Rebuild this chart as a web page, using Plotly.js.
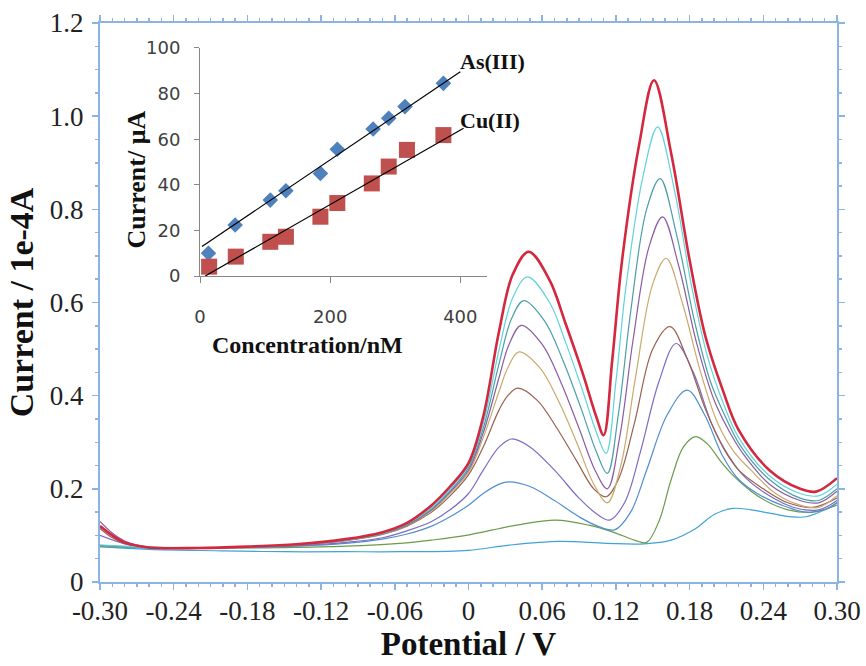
<!DOCTYPE html>
<html>
<head>
<meta charset="utf-8">
<script src="https://cdn.plot.ly/plotly-3.0.1.min.js"></script>
<style>html,body{margin:0;padding:0;background:#fff;}#chart{width:866px;height:666px;}</style>
</head>
<body>
<div id="chart"></div>
<script>
// ---- Main voltammograms (Potential / V, Current / 1e-4 A) ----
const redV = [-0.30,-0.29,-0.28,-0.26,-0.22,-0.18,-0.14,-0.10,-0.07,-0.05,-0.03,-0.015,0.0,0.012,0.025,0.036,0.049,0.066,0.079,0.093,0.104,0.110,0.117,0.125,0.139,0.151,0.165,0.18,0.193,0.207,0.22,0.245,0.27,0.283,0.30];
const redI = [0.12,0.10,0.085,0.074,0.073,0.076,0.081,0.092,0.107,0.127,0.165,0.205,0.255,0.355,0.54,0.66,0.709,0.648,0.555,0.448,0.355,0.315,0.476,0.69,0.94,1.077,0.92,0.691,0.526,0.412,0.326,0.24,0.2,0.194,0.223];

const cyanV = [-0.30,-0.28,-0.26,-0.22,-0.18,-0.14,-0.10,-0.07,-0.05,-0.03,-0.015,0.0,0.012,0.025,0.036,0.048,0.066,0.079,0.093,0.104,0.112,0.12,0.128,0.142,0.154,0.167,0.182,0.195,0.208,0.22,0.245,0.27,0.285,0.30];
const cyanI = [0.08,0.077,0.075,0.073,0.076,0.08,0.09,0.105,0.125,0.16,0.2,0.25,0.34,0.5,0.61,0.655,0.6,0.515,0.41,0.322,0.276,0.43,0.63,0.87,0.977,0.85,0.63,0.48,0.38,0.31,0.228,0.19,0.185,0.21];

const tealV = [-0.30,-0.28,-0.26,-0.22,-0.18,-0.14,-0.10,-0.07,-0.05,-0.03,-0.015,0.0,0.012,0.025,0.035,0.045,0.062,0.077,0.092,0.104,0.113,0.122,0.132,0.145,0.156,0.169,0.184,0.197,0.21,0.222,0.245,0.27,0.285,0.30];
const tealI = [0.078,0.076,0.074,0.073,0.076,0.08,0.09,0.104,0.123,0.157,0.196,0.245,0.33,0.47,0.565,0.604,0.56,0.475,0.37,0.28,0.233,0.36,0.58,0.80,0.866,0.75,0.56,0.43,0.35,0.29,0.22,0.18,0.175,0.2];

const purpleV = [-0.30,-0.29,-0.28,-0.26,-0.22,-0.18,-0.14,-0.10,-0.07,-0.05,-0.03,-0.015,0.0,0.012,0.025,0.033,0.043,0.06,0.075,0.09,0.103,0.113,0.123,0.134,0.147,0.158,0.171,0.186,0.2,0.213,0.225,0.245,0.27,0.285,0.30];
const purpleI = [0.13,0.105,0.088,0.075,0.073,0.076,0.08,0.09,0.104,0.122,0.155,0.193,0.24,0.32,0.44,0.51,0.551,0.51,0.43,0.33,0.24,0.2,0.31,0.52,0.72,0.784,0.68,0.51,0.39,0.32,0.27,0.21,0.175,0.17,0.195];

const tanV = [-0.30,-0.28,-0.26,-0.22,-0.18,-0.14,-0.10,-0.07,-0.05,-0.03,-0.015,0.0,0.012,0.025,0.032,0.041,0.058,0.073,0.088,0.102,0.113,0.124,0.136,0.15,0.161,0.174,0.189,0.203,0.216,0.23,0.25,0.27,0.285,0.30];
const tanI = [0.078,0.076,0.074,0.073,0.076,0.08,0.089,0.103,0.121,0.153,0.19,0.235,0.31,0.41,0.46,0.494,0.46,0.39,0.3,0.21,0.17,0.25,0.44,0.64,0.695,0.6,0.45,0.34,0.28,0.24,0.19,0.165,0.16,0.185];

const brownV = [-0.30,-0.29,-0.28,-0.26,-0.22,-0.18,-0.14,-0.10,-0.07,-0.05,-0.03,-0.015,0.0,0.012,0.025,0.032,0.040,0.056,0.072,0.088,0.102,0.112,0.122,0.135,0.15,0.164,0.178,0.193,0.207,0.22,0.24,0.26,0.28,0.30];
const brownI = [0.115,0.095,0.083,0.074,0.073,0.076,0.08,0.089,0.102,0.12,0.15,0.185,0.23,0.29,0.37,0.4,0.416,0.39,0.33,0.26,0.2,0.183,0.22,0.34,0.5,0.548,0.48,0.37,0.29,0.24,0.2,0.17,0.16,0.18];

const violetV = [-0.30,-0.28,-0.26,-0.22,-0.18,-0.14,-0.10,-0.07,-0.05,-0.03,-0.015,0.0,0.012,0.025,0.035,0.05,0.07,0.09,0.105,0.115,0.127,0.14,0.155,0.169,0.183,0.198,0.212,0.225,0.245,0.265,0.285,0.30];
const violetI = [0.1,0.082,0.074,0.072,0.075,0.078,0.085,0.095,0.11,0.13,0.155,0.19,0.24,0.29,0.307,0.29,0.24,0.18,0.145,0.133,0.17,0.28,0.43,0.512,0.45,0.34,0.27,0.225,0.185,0.16,0.155,0.175];

const blueV = [-0.30,-0.28,-0.26,-0.22,-0.18,-0.14,-0.10,-0.07,-0.05,-0.03,-0.015,0.0,0.012,0.025,0.033,0.05,0.07,0.09,0.105,0.119,0.132,0.145,0.162,0.178,0.192,0.207,0.22,0.235,0.255,0.275,0.29,0.30];
const blueI = [0.078,0.075,0.073,0.072,0.074,0.077,0.083,0.092,0.103,0.12,0.14,0.165,0.19,0.21,0.215,0.205,0.175,0.14,0.12,0.112,0.15,0.24,0.36,0.412,0.36,0.27,0.22,0.19,0.165,0.15,0.155,0.17];

const greenV = [-0.30,-0.26,-0.2,-0.15,-0.1,-0.056,-0.03,-0.002,0.039,0.071,0.098,0.12,0.135,0.145,0.155,0.165,0.175,0.185,0.195,0.205,0.215,0.23,0.245,0.26,0.28,0.30];
const greenI = [0.076,0.074,0.073,0.074,0.077,0.083,0.09,0.1,0.122,0.133,0.122,0.105,0.09,0.085,0.13,0.22,0.29,0.312,0.295,0.26,0.23,0.195,0.17,0.155,0.15,0.165];

const skyV = [-0.30,-0.26,-0.2,-0.15,-0.1,-0.056,0.0,0.033,0.074,0.112,0.143,0.165,0.185,0.2,0.215,0.23,0.245,0.263,0.275,0.29,0.30];
const skyI = [0.076,0.07,0.067,0.065,0.065,0.065,0.068,0.079,0.087,0.083,0.082,0.09,0.115,0.145,0.158,0.155,0.148,0.14,0.14,0.155,0.17];

// ---- Inset calibration data ----
const asConc = [13,54,108,132,185,211,266,290,315,374];
const asCurrent = [10,22.4,33.3,37.4,45,55.6,64.5,69.2,74.3,84.5];
const cuConc = [14,55,108,132,185,211,264,290,318,374];
const cuCurrent = [4.1,8.5,15,17.2,26,32,40.6,48,55.3,61.8];
const asFitConc = [3,400];
const asFitCurrent = [12.9,89.6];
const cuFitConc = [8,405];
const cuFitCurrent = [0,64.8];

// ---- Tick labels ----
const xTickVals = [-0.30,-0.24,-0.18,-0.12,-0.06,0,0.06,0.12,0.18,0.24,0.30];
const xTickText = ['-0.30','-0.24','-0.18','-0.12','-0.06','0','0.06','0.12','0.18','0.24','0.30'];
const yTickVals = [0,0.2,0.4,0.6,0.8,1.0,1.2];
const yTickText = ['0','0.2','0.4','0.6','0.8','1.0','1.2'];

const serif = 'Liberation Serif, Times New Roman, serif';
const sans = 'DejaVu Sans, Verdana, sans-serif';
const axisBlue = '#8db3e2';

const curves = [
  [skyV, skyI, '#3fa3d6', 1.2],
  [greenV, greenI, '#6b9b4a', 1.2],
  [blueV, blueI, '#4f8fd0', 1.2],
  [violetV, violetI, '#7b6cc2', 1.2],
  [brownV, brownI, '#98614f', 1.2],
  [tanV, tanI, '#c9aa6c', 1.2],
  [purpleV, purpleI, '#8a5ca2', 1.2],
  [tealV, tealI, '#4b9fa9', 1.2],
  [cyanV, cyanI, '#5fd3dc', 1.2],
  [redV, redI, '#d3283e', 2.6]
];

const traces = curves.map(c => ({
  x: c[0], y: c[1], type: 'scatter', mode: 'lines',
  line: {color: c[2], width: c[3], shape: 'spline', smoothing: 1},
  xaxis: 'x', yaxis: 'y', hoverinfo: 'skip'
}));

traces.push({
  x: asConc, y: asCurrent, type: 'scatter', mode: 'markers', xaxis: 'x2', yaxis: 'y2',
  marker: {symbol: 'diamond', size: 12, color: '#4f81bd'}
});
traces.push({
  x: cuConc, y: cuCurrent, type: 'scatter', mode: 'markers', xaxis: 'x2', yaxis: 'y2',
  marker: {symbol: 'square', size: 16, color: '#c0504d'}
});
traces.push({
  x: asFitConc, y: asFitCurrent, type: 'scatter', mode: 'lines', xaxis: 'x2', yaxis: 'y2',
  line: {color: '#000', width: 1.2}
});
traces.push({
  x: cuFitConc, y: cuFitCurrent, type: 'scatter', mode: 'lines', xaxis: 'x2', yaxis: 'y2',
  line: {color: '#000', width: 1.2}
});

const layout = {
  width: 866, height: 666,
  margin: {l: 100, r: 29, t: 23, b: 84},
  paper_bgcolor: '#fff', plot_bgcolor: '#fff',
  showlegend: false,
  xaxis: {
    range: [-0.3, 0.3], tickmode: 'array', tickvals: xTickVals, ticktext: xTickText,
    showline: true, linecolor: axisBlue, linewidth: 2, mirror: 'ticks',
    ticks: 'outside', ticklen: 6, tickcolor: axisBlue, tickwidth: 1.5,
    minor: {tick0: -0.3, dtick: 0.01, ticks: 'outside', ticklen: 3, tickcolor: axisBlue},
    showgrid: false, zeroline: false, ticklabelstandoff: -2,
    tickfont: {family: serif, size: 27, color: '#222'},
    title: {text: 'Potential / V', font: {family: serif, size: 33, color: '#111', weight: 'bold'}, standoff: 2}
  },
  yaxis: {
    range: [0, 1.2], tickmode: 'array', tickvals: yTickVals, ticktext: yTickText,
    showline: true, linecolor: axisBlue, linewidth: 2, mirror: 'ticks',
    ticks: 'outside', ticklen: 6, tickcolor: axisBlue, tickwidth: 1.5,
    minor: {tick0: 0, dtick: 0.05, ticks: 'outside', ticklen: 3, tickcolor: axisBlue},
    showgrid: false, zeroline: false, ticklabelstandoff: 3,
    tickfont: {family: serif, size: 27, color: '#222'},
    title: {text: 'Current / 1e-4A', font: {family: serif, size: 34, color: '#111', weight: 'bold'}, standoff: 6}
  },
  xaxis2: {
    domain: [0.1357, 0.5251], anchor: 'y2', range: [0, 441],
    tickmode: 'array', tickvals: [0, 200, 400],
    showline: true, linecolor: '#868686', linewidth: 1,
    ticks: 'outside', ticklen: 6, tickcolor: '#868686',
    showgrid: false, zeroline: false, ticklabelstandoff: 18,
    tickfont: {family: sans, size: 18, color: '#404040'}
  },
  yaxis2: {
    domain: [0.5474, 0.9553], anchor: 'x2', range: [0, 100],
    tickmode: 'array', tickvals: [0, 20, 40, 60, 80, 100],
    showline: true, linecolor: '#868686', linewidth: 1,
    ticks: 'outside', ticklen: 5, tickcolor: '#868686',
    showgrid: false, zeroline: false, ticklabelstandoff: 10,
    tickfont: {family: sans, size: 18, color: '#404040'}
  },
  annotations: [
    {text: 'Concentration/nM', xref: 'paper', yref: 'paper', x: 0.2809, y: 0.424,
     xanchor: 'center', yanchor: 'middle', showarrow: false,
     font: {family: serif, size: 24, color: '#111', weight: 'bold'}},
    {text: 'Current/ μA', xref: 'paper', yref: 'paper', x: 0.0502, y: 0.72, textangle: -90,
     xanchor: 'center', yanchor: 'middle', showarrow: false,
     font: {family: serif, size: 26, color: '#111', weight: 'bold'}},
    {text: 'As(III)', xref: 'x2', yref: 'y2', x: 397, y: 93.9, xanchor: 'left', yanchor: 'middle',
     showarrow: false, font: {family: serif, size: 22, color: '#111', weight: 'bold'}},
    {text: 'Cu(II)', xref: 'x2', yref: 'y2', x: 397, y: 68.4, xanchor: 'left', yanchor: 'middle',
     showarrow: false, font: {family: serif, size: 22, color: '#111', weight: 'bold'}}
  ]
};

Plotly.newPlot('chart', traces, layout, {staticPlot: true, displayModeBar: false});
</script>
</body>
</html>
